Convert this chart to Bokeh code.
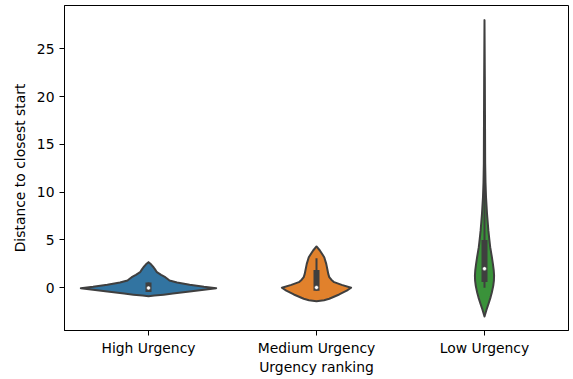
import numpy as np
from bokeh.plotting import figure
from bokeh.models import Range1d, FixedTicker
from bokeh.embed import file_html
from bokeh.resources import INLINE

# ---- data ----
categories = ["High Urgency", "Medium Urgency", "Low Urgency"]
colors = ["#3274a1", "#e1812c", "#3a923a"]

# violin density profiles: value grid and half-width (in category units)
high_vals = [-0.88, -0.82, -0.72, -0.60, -0.40, -0.20, -0.04, 0.10, 0.31, 0.55,
             0.76, 0.94, 1.11, 1.35, 1.63, 1.90, 2.15, 2.45, 2.68]
high_hw = [0.0, 0.035, 0.09, 0.145, 0.245, 0.33, 0.403, 0.33, 0.245, 0.17,
           0.125, 0.112, 0.10, 0.075, 0.05, 0.04, 0.03, 0.015, 0.0]

med_vals = [-1.40, -1.30, -1.15, -0.70, -0.30, 0.0, 0.30, 0.59, 0.85, 1.11,
            1.45, 1.81, 2.5, 3.2, 3.9, 4.32]
med_hw = [0.0, 0.045, 0.076, 0.135, 0.18, 0.206, 0.15, 0.105, 0.088, 0.076,
          0.07, 0.066, 0.058, 0.046, 0.02, 0.0]

low_vals = [-3.0, -2.3, -1.67, -1.0, -0.46, 0.2, 0.76, 1.3, 1.81, 2.5, 3.2,
            4.25, 5.0, 6.0, 7.74, 9.5, 11.0, 13.0, 17.5, 22.0, 28.0]
low_hw = [0.0, 0.012, 0.024, 0.036, 0.044, 0.052, 0.056, 0.057, 0.055, 0.05,
          0.044, 0.034, 0.029, 0.023, 0.015, 0.009, 0.006, 0.004, 0.003, 0.002, 0.0]

# inner box statistics
q1 = [-0.45, -0.30, 0.60]
median = [-0.02, 0.03, 2.0]
q3 = [0.55, 1.85, 5.0]
whisk_lo = [-0.45, -0.30, 0.0]
whisk_hi = [0.55, 3.1, 11.5]

y_ticks = [0, 5, 10, 15, 20, 25]

# ---- figure ----
GRAY = "#3f3f3f"
FONT = "DejaVu Sans"
FS = "13.9px"

p = figure(width=573, height=379, output_backend="svg", toolbar_location=None,
           x_range=Range1d(-0.5, 2.5), y_range=Range1d(-4.47, 29.53))
p.min_border_left = 64
p.min_border_right = 5
p.min_border_top = 5
p.min_border_bottom = 49
p.grid.visible = False
p.outline_line_color = "black"
p.outline_line_width = 1
p.background_fill_color = "white"
p.border_fill_color = "white"

profiles = [(high_vals, high_hw), (med_vals, med_hw), (low_vals, low_hw)]
for i, (vals, hw) in enumerate(profiles):
    v = np.array(vals, dtype=float)
    w = np.array(hw, dtype=float)
    xs = np.concatenate([i - w, (i + w)[::-1]])
    ys = np.concatenate([v, v[::-1]])
    p.patch(xs, ys, fill_color=colors[i], line_color=GRAY, line_width=2,
            line_join="round")

pos = list(range(len(categories)))
p.segment(x0=pos, y0=whisk_lo, x1=pos, y1=whisk_hi, line_color=GRAY, line_width=2)
p.segment(x0=pos, y0=q1, x1=pos, y1=q3, line_color=GRAY, line_width=6, line_cap="butt")
p.scatter(pos, median, size=4, fill_color="white", line_color=GRAY, line_width=0.5)

# axes
p.xaxis.ticker = FixedTicker(ticks=pos)
p.xaxis.major_label_overrides = {i: c for i, c in enumerate(categories)}
p.yaxis.ticker = FixedTicker(ticks=y_ticks)
p.xaxis.axis_label = "Urgency ranking"
p.yaxis.axis_label = "Distance to closest start"

for ax in (p.xaxis, p.yaxis):
    ax.axis_line_color = "black"
    ax.axis_line_width = 1
    ax.major_tick_line_color = "black"
    ax.major_tick_line_width = 1
    ax.major_tick_out = 5
    ax.major_tick_in = 0
    ax.minor_tick_line_color = None
    ax.major_label_standoff = 5
    ax.major_label_text_font = FONT
    ax.major_label_text_font_size = FS
    ax.major_label_text_color = "black"
    ax.axis_label_text_font = FONT
    ax.axis_label_text_font_size = FS
    ax.axis_label_text_font_style = "normal"
    ax.axis_label_text_color = "black"
    ax.axis_label_standoff = 6

p.xaxis.major_label_standoff = 4
p.xaxis.axis_label_standoff = 0

open("out.html", "w").write(file_html(p, INLINE))
